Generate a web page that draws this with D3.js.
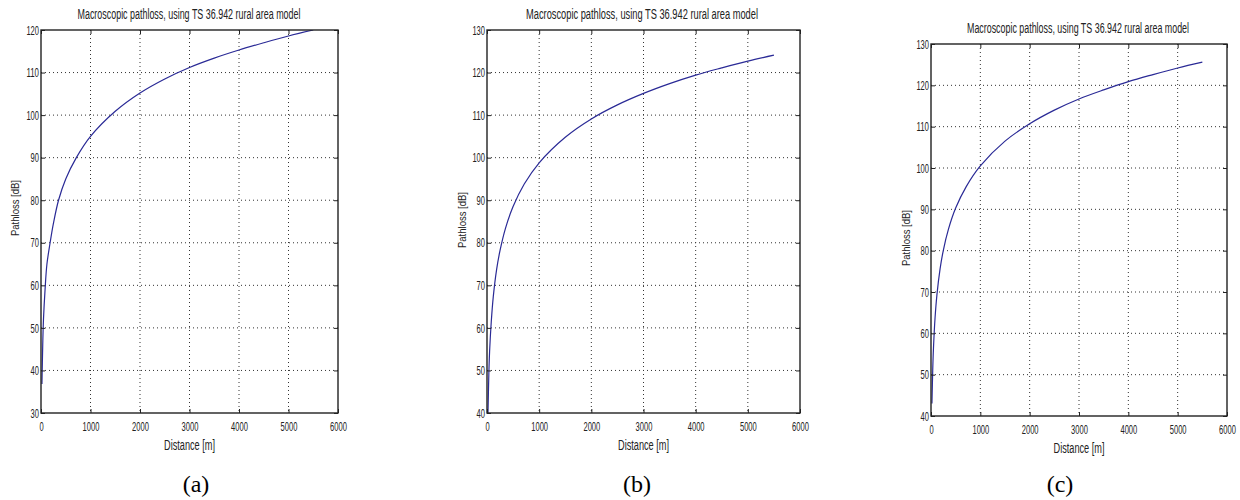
<!DOCTYPE html>
<html>
<head>
<meta charset="utf-8">
<script src="https://cdn.jsdelivr.net/npm/d3@7"></script>
<style>
    html, body { margin: 0; padding: 0; background: #ffffff; }
    svg { display: block; }
</style>
</head>
<body>
<svg id="chart" width="1240" height="500"></svg>
<script>
/* Pathloss vs distance, three panels (a) (b) (c) */

// Distance samples [m]
const distance = [19, 35, 50, 82, 120, 184, 250, 354, 500, 714, 1000, 1500, 2000, 2500, 3000, 3500, 4000, 4500, 5000, 5500];

// Pathloss [dB]
const pathlossA = [36.8, 46, 52, 59, 65, 70, 74.5, 80, 85, 90, 95, 100.9, 105.2, 108.5, 111.2, 113.4, 115.3, 117, 118.6, 120];
const pathlossB = [40, 49, 54.5, 61.5, 67.3, 73.7, 78.2, 83.4, 88.5, 93.8, 98.8, 104.8, 109.1, 112.4, 115.1, 117.4, 119.4, 121.1, 122.7, 124.1];
const pathlossC = [43, 51.1, 56.4, 63.7, 69.3, 75.6, 80.1, 85.2, 90.3, 95.5, 100.5, 106.5, 110.7, 114, 116.7, 118.9, 120.9, 122.6, 124.2, 125.6];

// Tick labels
const xTicks = [0, 1000, 2000, 3000, 4000, 5000, 6000];
const yTicksA = [30, 40, 50, 60, 70, 80, 90, 100, 110, 120];
const yTicksBC = [40, 50, 60, 70, 80, 90, 100, 110, 120, 130];

const titleText = 'Macroscopic pathloss, using TS 36.942 rural area model';
const xLabelText = 'Distance [m]';
const yLabelText = 'Pathloss [dB]';
const panelLabels = ['(a)', '(b)', '(c)'];

(function() {
    'use strict';

    const svg = d3.select('#chart');
    const narrow = '"Liberation Sans Narrow", "Arial Narrow", "Liberation Sans", sans-serif';

    // panel boxes (pixel layout of each axes)
    const panels = [
        { values: pathlossA, yTicks: yTicksA, left: 41, top: 30, right: 338, bottom: 413,
          titleX: 189, titleY: 19, titleW: 223, yLabX: 15, yLabY: 208, capX: 196 },
        { values: pathlossB, yTicks: yTicksBC, left: 487, top: 30, right: 800, bottom: 413,
          titleX: 642, titleY: 19, titleW: 232, yLabX: 462, yLabY: 220, capX: 637 },
        { values: pathlossC, yTicks: yTicksBC, left: 931, top: 44, right: 1227, bottom: 416,
          titleX: 1078, titleY: 33, titleW: 222, yLabX: 906, yLabY: 238, capX: 1060 }
    ];

    function squeeze(sel, perChar) {
        sel.attr('textLength', function() { return this.textContent.length * perChar; })
            .attr('lengthAdjust', 'spacingAndGlyphs');
    }

    panels.forEach((p, i) => {
        const w = p.right - p.left;
        const h = p.bottom - p.top;
        const data = distance.map((d, k) => ({ d: d, v: p.values[k] }));

        const x = d3.scaleLinear().domain([0, 6000]).range([0, w]);
        const y = d3.scaleLinear()
            .domain([p.yTicks[0], p.yTicks[p.yTicks.length - 1]])
            .range([h, 0]);

        const g = svg.append('g').attr('transform', `translate(${p.left}, ${p.top})`);

        // Dotted grid
        g.append('g').selectAll('line')
            .data(xTicks.slice(1, -1))
            .join('line')
            .attr('x1', d => x(d)).attr('x2', d => x(d))
            .attr('y1', 0).attr('y2', h)
            .attr('stroke', '#333').attr('stroke-width', 1)
            .attr('stroke-dasharray', '1,3');

        g.append('g').selectAll('line')
            .data(p.yTicks.slice(1, -1))
            .join('line')
            .attr('x1', 0).attr('x2', w)
            .attr('y1', d => y(d)).attr('y2', d => y(d))
            .attr('stroke', '#333').attr('stroke-width', 1)
            .attr('stroke-dasharray', '1,3');

        // Curve
        const clipId = 'clip' + i;
        g.append('clipPath').attr('id', clipId)
            .append('rect').attr('width', w).attr('height', h);

        const line = d3.line()
            .x(d => x(d.d))
            .y(d => y(d.v))
            .curve(d3.curveCatmullRom.alpha(0.5));

        g.append('path')
            .datum(data)
            .attr('clip-path', `url(#${clipId})`)
            .attr('fill', 'none')
            .attr('stroke', '#2a2a96')
            .attr('stroke-width', 1.2)
            .attr('d', line);

        // Axes, ticks pointing inward like MATLAB
        const xAxis = g.append('g')
            .attr('transform', `translate(0, ${h})`)
            .call(d3.axisBottom(x).tickValues(xTicks).tickFormat(d3.format('d'))
                .tickSizeInner(-4).tickSizeOuter(0).tickPadding(9));

        const yAxis = g.append('g')
            .call(d3.axisLeft(y).tickValues(p.yTicks).tickFormat(d3.format('d'))
                .tickSizeInner(-4).tickSizeOuter(0).tickPadding(2));

        g.append('g')
            .call(d3.axisTop(x).tickValues(xTicks).tickSizeInner(-4).tickSizeOuter(0).tickFormat(''));
        g.append('g')
            .attr('transform', `translate(${w}, 0)`)
            .call(d3.axisRight(y).tickValues(p.yTicks).tickSizeInner(-4).tickSizeOuter(0).tickFormat(''));

        g.selectAll('.domain').attr('stroke', 'none');
        g.selectAll('.tick line').attr('stroke', '#222');

        [xAxis, yAxis].forEach(ax => {
            ax.selectAll('text')
                .style('font-family', narrow)
                .style('font-size', '13px')
                .style('fill', '#222');
            squeeze(ax.selectAll('text'), 4.2);
        });

        // Box
        g.append('rect')
            .attr('width', w).attr('height', h)
            .attr('fill', 'none')
            .attr('stroke', '#222')
            .attr('stroke-width', 1.4);

        // Title
        svg.append('text')
            .attr('x', p.titleX).attr('y', p.titleY)
            .attr('text-anchor', 'middle')
            .attr('textLength', p.titleW)
            .attr('lengthAdjust', 'spacingAndGlyphs')
            .style('font-family', narrow)
            .style('font-size', '14px')
            .style('fill', '#222')
            .text(titleText);

        // X label
        svg.append('text')
            .attr('x', p.left + w / 2).attr('y', p.bottom + 37)
            .attr('text-anchor', 'middle')
            .attr('textLength', 51)
            .attr('lengthAdjust', 'spacingAndGlyphs')
            .style('font-family', narrow)
            .style('font-size', '14px')
            .style('fill', '#222')
            .text(xLabelText);

        // Y label
        svg.append('text')
            .attr('transform', `translate(${p.yLabX + 4}, ${p.yLabY}) rotate(-90)`)
            .attr('text-anchor', 'middle')
            .attr('textLength', 56)
            .attr('lengthAdjust', 'spacingAndGlyphs')
            .style('font-family', '"Liberation Sans", Arial, sans-serif')
            .style('font-size', '11px')
            .style('fill', '#222')
            .text(yLabelText);

        // Sub-figure caption
        svg.append('text')
            .attr('x', p.capX).attr('y', 492)
            .attr('text-anchor', 'middle')
            .style('font-family', '"Liberation Serif", "Times New Roman", serif')
            .style('font-size', '24px')
            .style('fill', '#000')
            .text(panelLabels[i]);
    });
})();
</script>
</body>
</html>
